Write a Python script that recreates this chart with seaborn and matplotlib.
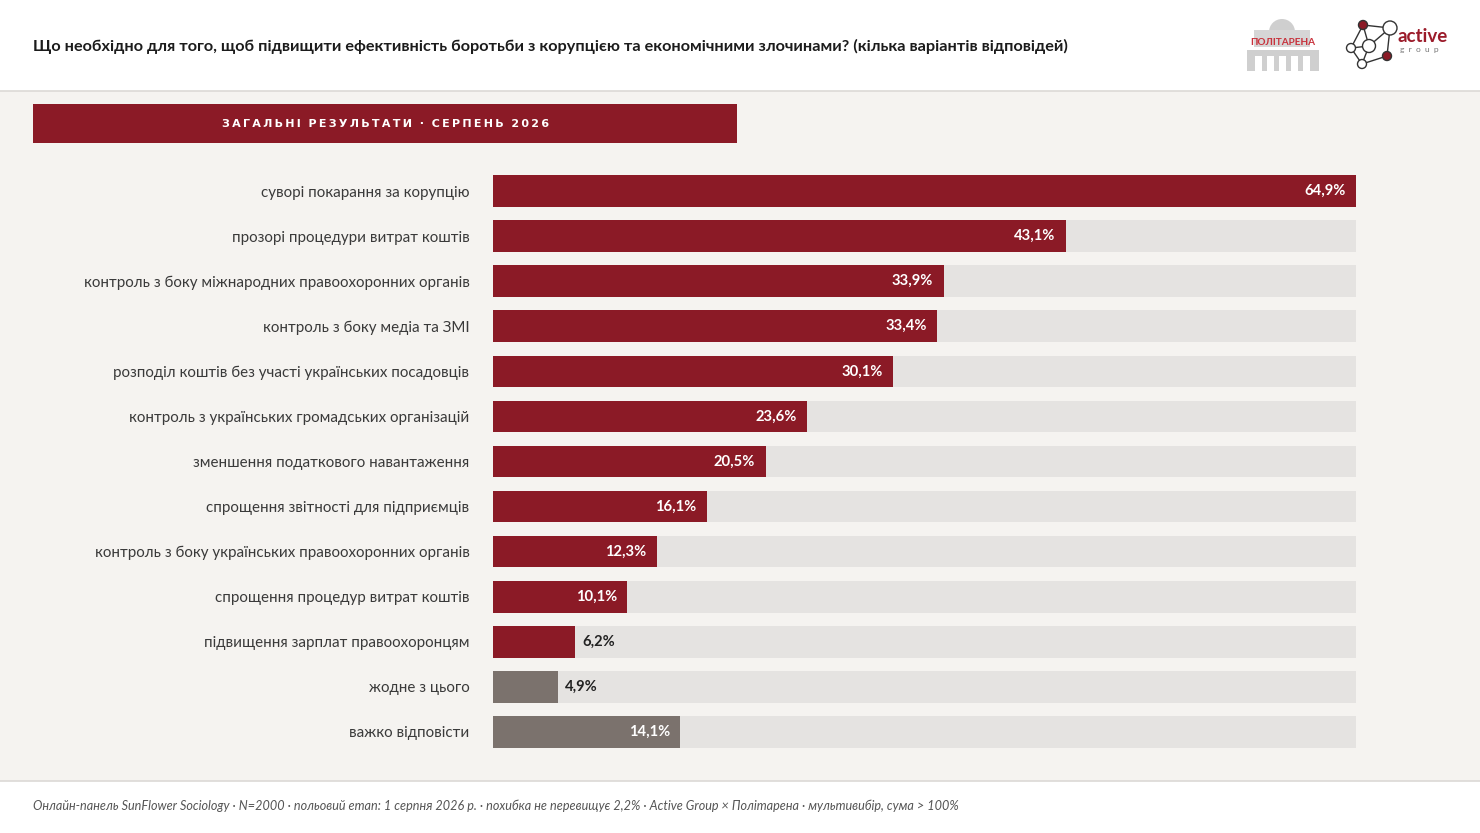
import matplotlib.pyplot as plt
import matplotlib.patches as mpatches
import seaborn as sns
import pandas as pd

# survey answers, % of respondents (multiple choice)
answers = [
    "суворі покарання за корупцію",
    "прозорі процедури витрат коштів",
    "контроль з боку міжнародних правоохоронних органів",
    "контроль з боку медіа та ЗМІ",
    "розподіл коштів без участі українських посадовців",
    "контроль з українських громадських організацій",
    "зменшення податкового навантаження",
    "спрощення звітності для підприємців",
    "контроль з боку українських правоохоронних органів",
    "спрощення процедур витрат коштів",
    "підвищення зарплат правоохоронцям",
    "жодне з цього",
    "важко відповісти",
]
shares = [64.9, 43.1, 33.9, 33.4, 30.1, 23.6, 20.5, 16.1, 12.3, 10.1, 6.2, 4.9, 14.1]
groups = ["option"] * 11 + ["other", "other"]

title = ("Що необхідно для того, щоб підвищити ефективність боротьби з корупцією "
         "та економічними злочинами? (кілька варіантів відповідей)")
banner = "ЗАГАЛЬНІ РЕЗУЛЬТАТИ · СЕРПЕНЬ 2026"
footer = ("Онлайн-панель SunFlower Sociology · N=2000 · польовий етап: 1 серпня 2026 р. · "
          "похибка не перевищує 2,2% · Active Group × Політарена · мультивибір, сума > 100%")

RED = "#8b1a26"
GREY = "#7b726d"
TRACK = "#e5e3e1"
BG = "#f5f3f0"

df = pd.DataFrame({"answer": answers, "share": shares, "group": groups})
df["track"] = max(shares)

sns.set_theme(style="white")
plt.rcParams['font.family'] = ['Lato', 'DejaVu Sans']

W, H = 1480, 833
fig = plt.figure(figsize=(W / 100, H / 100), dpi=100)
fig.patch.set_facecolor("white")

# page decoration layer in pixel coordinates
deco = fig.add_axes([0, 0, 1, 1], zorder=0)
deco.set_xlim(0, W)
deco.set_ylim(H, 0)
deco.axis("off")
deco.add_patch(mpatches.Rectangle((0, 91), W, 690, color=BG, lw=0))
deco.plot([0, W], [91, 91], color="#dcd9d6", lw=1.2)
deco.plot([0, W], [781, 781], color="#dcd9d6", lw=1.2)
deco.text(33, 46, title, fontsize=11.7, fontweight="bold", color="#1c1c1c", va="center")
deco.add_patch(mpatches.Rectangle((33, 104), 704, 39, color=RED, lw=0))
deco.text(386, 124, "\u2009".join(banner).replace("\u2009 \u2009", "  "),
          fontsize=8.0, fontweight="bold", color="white", ha="center", va="center",
          family=['DejaVu Sans'])
deco.text(33, 806, footer, fontsize=9.1, style="italic", color="#555555", va="center")

# Політарена logo
deco.add_patch(mpatches.Wedge((1282, 32), 13, 180, 360, color="#cfcfcf", lw=0))
deco.add_patch(mpatches.Rectangle((1254, 30), 56, 17, color="#d6d6d6", lw=0))
deco.add_patch(mpatches.Rectangle((1247, 50), 72, 21, color="#cfcfcf", lw=0))
for cx in [1255, 1267, 1279, 1291, 1303]:
    deco.add_patch(mpatches.Rectangle((cx, 56), 7, 15, color="white", lw=0))
deco.text(1283, 42, "ПОЛІТАРЕНА", fontsize=7.2, fontweight="bold", color="#c8323c",
          ha="center", va="center")

# Active group logo
nodes = {"a": (1363, 25, 4.5, RED), "b": (1390, 28, 7, "white"), "c": (1351, 48, 4.5, "white"),
         "d": (1369, 46, 6.5, "white"), "e": (1387, 56, 4.5, RED), "f": (1362, 64, 4.5, "white")}
edges = ["ab", "ac", "ad", "bd", "be", "cd", "cf", "df", "ef"]
for e in edges:
    p, q = nodes[e[0]], nodes[e[1]]
    deco.plot([p[0], q[0]], [p[1], q[1]], color="#333333", lw=1.0, zorder=2)
for x, y, r, c in nodes.values():
    deco.add_patch(mpatches.Circle((x, y), r, facecolor=c, edgecolor="#333333", lw=1.0, zorder=3))
deco.text(1398, 36, "active", fontsize=13.5, fontweight="bold", color="#9b1b2a", va="center")
deco.text(1400, 49, "g  r  o  u  p", fontsize=6, color="#777777", va="center")

# main chart
ax = fig.add_axes([493 / W, 1 - 754.5 / H, 863 / W, 586 / H], zorder=1)
ax.patch.set_alpha(0)
sns.barplot(data=df, x="track", y="answer", color=TRACK, width=0.7, saturation=1,
            linewidth=0, ax=ax, zorder=1)
sns.barplot(data=df, x="share", y="answer", hue="group", palette={"option": RED, "other": GREY},
            width=0.7, saturation=1, dodge=False, legend=False, linewidth=0, ax=ax, zorder=2)

ax.set_xlim(0, max(shares))
ax.set_ylim(len(answers) - 0.5, -0.5)
ax.set_xlabel("")
ax.set_ylabel("")
ax.set_xticks([])
ax.tick_params(axis="y", length=0, pad=17, labelsize=10.9, labelcolor="#3a3a3a")
for s in ax.spines.values():
    s.set_visible(False)

for i, v in enumerate(shares):
    lab = f"{v:.1f}%".replace(".", ",")
    if v >= 10:
        ax.annotate(lab, (v, i), xytext=(-7.5, 0), textcoords="offset points", ha="right",
                    va="center", color="white", fontsize=10.6, fontweight="bold", zorder=3)
    else:
        ax.annotate(lab, (v, i), xytext=(5, 0), textcoords="offset points", ha="left",
                    va="center", color="#222222", fontsize=10.6, fontweight="bold", zorder=3)

fig.savefig("out.png", dpi=100)
